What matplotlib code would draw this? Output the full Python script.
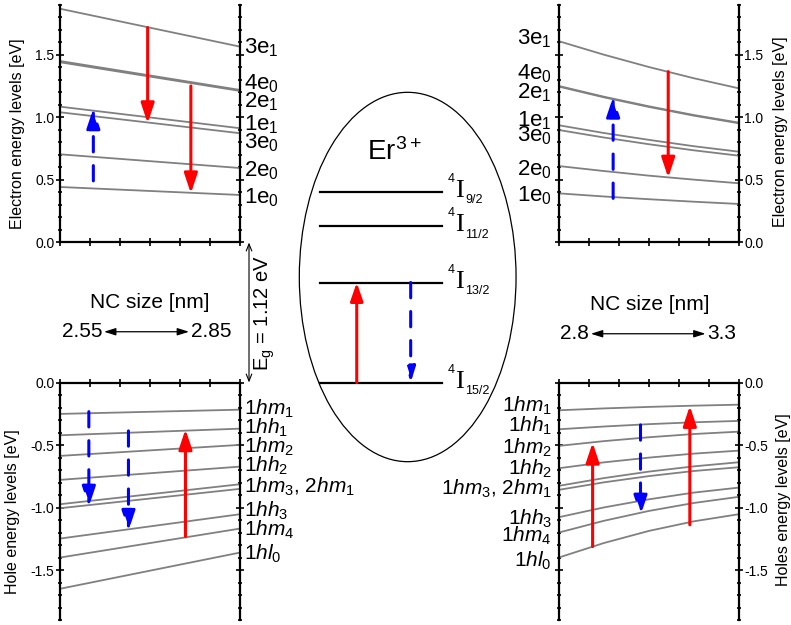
import numpy as np
import matplotlib.pyplot as plt
from matplotlib.patches import Ellipse
from matplotlib.ticker import MultipleLocator, FormatStrFormatter

plt.rcParams['font.family'] = ['Liberation Sans', 'DejaVu Sans']
plt.rcParams['mathtext.fontset'] = 'custom'
plt.rcParams['mathtext.rm'] = 'Liberation Sans'
plt.rcParams['mathtext.it'] = 'Liberation Sans:italic'
plt.rcParams['mathtext.default'] = 'regular'
plt.rcParams['axes.unicode_minus'] = False

# NC sizes [nm]
size_small = [2.55, 2.85]
size_large = [2.8, 2.925, 3.05, 3.175, 3.3]

# electron levels [eV]
e_labels = ['3$e_1$', '4$e_0$', '2$e_1$', '1$e_1$', '3$e_0$', '2$e_0$', '1$e_0$']
e_small = [[1.87, 1.566], [1.451, 1.219], [1.441, 1.211], [1.085, 0.912],
           [1.040, 0.872], [0.703, 0.593], [0.441, 0.377]]
e_large = [[1.610, 1.502, 1.403, 1.313, 1.232],
           [1.251, 1.165, 1.088, 1.018, 0.957],
           [1.246, 1.160, 1.083, 1.013, 0.952],
           [0.936, 0.874, 0.819, 0.768, 0.724],
           [0.898, 0.838, 0.784, 0.735, 0.692],
           [0.609, 0.569, 0.532, 0.500, 0.471],
           [0.390, 0.365, 0.343, 0.323, 0.305]]

# hole levels [eV]
h_labels = ['1$\\mathit{hm}_1$', '1$\\mathit{hh}_1$', '1$\\mathit{hm}_2$', '1$\\mathit{hh}_2$',
            '1$\\mathit{hm}_3$, 2$\\mathit{hm}_1$', '1$\\mathit{hh}_3$', '1$\\mathit{hm}_4$',
            '1$\\mathit{hl}_0$']
h_small = [[-0.250, -0.216], [-0.421, -0.368], [-0.586, -0.498], [-0.778, -0.672],
           [-0.973, -0.813], [-1.005, -0.850], [-1.248, -1.053], [-1.400, -1.168],
           [-1.650, -1.360]]
h_large = [[-0.221, -0.206, -0.194, -0.184, -0.176],
           [-0.373, -0.351, -0.332, -0.317, -0.306],
           [-0.506, -0.468, -0.437, -0.411, -0.392],
           [-0.685, -0.638, -0.600, -0.568, -0.544],
           [-0.826, -0.764, -0.712, -0.670, -0.637],
           [-0.858, -0.798, -0.748, -0.707, -0.677],
           [-1.077, -0.999, -0.934, -0.880, -0.840],
           [-1.200, -1.106, -1.027, -0.963, -0.914],
           [-1.400, -1.284, -1.187, -1.110, -1.053]]

# transitions: size, start, end, colour
e_small_arrows = [(2.6055, 0.49, 1.072, 'b'), (2.696, 1.719, 0.952, 'r'), (2.768, 1.251, 0.390, 'r')]
e_large_arrows = [(2.951, 0.350, 1.165, 'b'), (3.104, 1.366, 0.516, 'r')]
h_small_arrows = [(2.598, -0.232, -0.992, 'b'), (2.664, -0.386, -1.186, 'b'), (2.759, -1.232, -0.373, 'r')]
h_large_arrows = [(2.894, -1.312, -0.480, 'r'), (3.027, -0.338, -1.064, 'b'), (3.164, -1.138, -0.186, 'r')]

# Er3+ levels [eV] above 4I15/2
er_terms = ['15/2', '13/2', '11/2', '9/2']
er_levels = [0.0, 0.80, 1.253, 1.528]
Eg = 1.12

# label heights (where the text sits next to the panels)
e_lab_small = [1.574, 1.286, 1.139, 0.957, 0.812, 0.585, 0.371]
e_lab_large = [1.646, 1.363, 1.213, 0.986, 0.866, 0.599, 0.390]
h_lab_small = [-0.192, -0.344, -0.498, -0.650, -0.818, -1.010, -1.162, -1.354]
h_lab_large = [-0.170, -0.330, -0.504, -0.677, -0.837, -1.077, -1.210, -1.410]

fig = plt.figure(figsize=(7.91, 6.25), dpi=100)

# background axes for the Er3+ scheme, same eV scale as the panels
cax = fig.add_axes([0, 0.008, 1, 0.984])
cax.set_xlim(0, 1)
cax.set_ylim(-1.9, Eg + 1.9)
cax.axis('off')


def arrow(ax, x, y0, y1, c, lw=2.2, hl=12, hw=4.0):
    col = {'r': 'red', 'b': 'blue'}[c]
    ls = (0, (5, 4.5)) if c == 'b' else '-'
    ax.annotate('', xy=(x, y1), xytext=(x, y0),
                arrowprops=dict(arrowstyle=f'-|>,head_length={hl},head_width={hw}',
                                mutation_scale=1, color=col, lw=lw, linestyle=ls,
                                shrinkA=0, shrinkB=0), zorder=5)


def panel(rect, xs, levels, ylim, top, side, ylabel, lab_pos):
    ax = fig.add_axes(rect)
    for v in levels:
        ax.plot(xs, v, color='#808080', lw=1.3)
    ax.set_xlim(xs[0], xs[-1])
    ax.set_ylim(ylim)
    ax.spines['top' if top else 'bottom'].set_visible(False)
    for s in ax.spines.values():
        s.set_linewidth(1.6)
    ax.set_xticks(np.linspace(xs[0], xs[-1], 7))
    ax.yaxis.set_major_locator(MultipleLocator(0.5))
    ax.yaxis.set_minor_locator(MultipleLocator(0.1))
    ax.yaxis.set_major_formatter(FormatStrFormatter('%.1f'))
    ax.tick_params(which='both', direction='inout', left=True, right=True,
                   bottom=top, top=not top, labelbottom=False, labeltop=False,
                   labelleft=(side == 'left'), labelright=(side == 'right'),
                   labelsize=10, width=1.2, pad=1)
    ax.tick_params(which='major', length=6)
    ax.tick_params(which='minor', length=3.5)
    if side == 'right':
        ax.yaxis.set_label_position('right')
    ax.set_ylabel(ylabel, fontsize=11.5)
    ax.yaxis.set_label_coords(*lab_pos)
    return ax


ax1 = panel([0.0759, 0.6128, 0.2276, 0.3792], size_small, e_small, (0, 1.9), True, 'left',
            'Electron energy levels [eV]', (-0.194, 0.456))
ax2 = panel([0.7064, 0.6128, 0.2276, 0.3792], size_large, e_large, (0, 1.9), True, 'right',
            'Electron energy levels [eV]', (1.189, 0.466))
ax3 = panel([0.0759, 0.008, 0.2276, 0.3797], size_small, h_small, (-1.9, 0), False, 'left',
            'Hole energy levels [eV]', (-0.222, 0.457))
ax4 = panel([0.7064, 0.008, 0.2276, 0.3797], size_large, h_large, (-1.9, 0), False, 'right',
            'Holes energy levels [eV]', (1.209, 0.506))

for ax, arrs in [(ax1, e_small_arrows), (ax2, e_large_arrows),
                 (ax3, h_small_arrows), (ax4, h_large_arrows)]:
    for x, y0, y1, c in arrs:
        arrow(ax, x, y0, y1, c)

# level names beside the panels
for ax, labs, ys, right, fs in [(ax1, e_labels, e_lab_small, True, 16),
                                (ax2, e_labels, e_lab_large, False, 16),
                                (ax3, h_labels, h_lab_small, True, 15),
                                (ax4, h_labels, h_lab_large, False, 15)]:
    x0 = ax.get_xlim()[1] if right else ax.get_xlim()[0]
    for t, y in zip(labs, ys):
        ax.annotate(t, xy=(x0, y), xytext=(3 if right else -5, -5.6), textcoords='offset points',
                    ha='left' if right else 'right', va='baseline', fontsize=fs,
                    annotation_clip=False)

# Er3+ ion
cax.add_patch(Ellipse((0.5154, 0.844), 0.274, 2.955, fill=False, lw=0.9, color='black'))
lx0, lx1 = 0.4046, 0.5592
for term, E in zip(er_terms, er_levels):
    cax.plot([lx0, lx1], [E, E], color='black', lw=1.6)
    cax.annotate('4', xy=(lx1, E), xytext=(4.2, 7), textcoords='offset points',
                 fontsize=9, va='baseline', ha='left')
    cax.annotate('I', xy=(lx1, E), xytext=(9.2, -3.8), textcoords='offset points',
                 fontsize=19, va='baseline', ha='left', family='Liberation Serif')
    cax.annotate(term, xy=(lx1, E), xytext=(16.5, -8.5), textcoords='offset points',
                 fontsize=9, va='baseline', ha='left')
cax.text(0.4636, 1.78, 'Er$^{3+}$', fontsize=20, ha='left', va='baseline')
arrow(cax, 0.451, er_levels[0], er_levels[1], 'r', hl=11, hw=3.8)
arrow(cax, 0.5192, er_levels[1], er_levels[0], 'b', hl=9, hw=2.8)

# band gap
cax.annotate('', xy=(0.3148, Eg), xytext=(0.3148, 0),
             arrowprops=dict(arrowstyle='<->,head_length=5,head_width=2', mutation_scale=1,
                             lw=0.8, color='black', shrinkA=0, shrinkB=0))
cax.text(0.335, Eg / 2, 'E$_g$ = %.2f eV' % Eg, rotation=90, fontsize=14.5,
         ha='center', va='center')

# NC size ranges
for xs, xc, xa0, xa1, yc in [(size_small, 0.1896, 0.1315, 0.2390, 0.636),
                             (size_large, 0.8217, 0.7470, 0.8920, 0.620)]:
    cax.text(xc, yc, 'NC size [nm]', fontsize=15, ha='center', va='center')
    cax.annotate('', xy=(xa1, yc - 0.23), xytext=(xa0, yc - 0.23),
                 arrowprops=dict(arrowstyle='<|-|>,head_length=7,head_width=2.2',
                                 mutation_scale=1, lw=0.9, color='black', shrinkA=0, shrinkB=0))
    cax.text(xa0 - 0.002, yc - 0.23, '%g' % xs[0], fontsize=15, ha='right', va='center')
    cax.text(xa1 + 0.002, yc - 0.23, '%g' % xs[-1], fontsize=15, ha='left', va='center')

fig.savefig('out.png', dpi=100)
